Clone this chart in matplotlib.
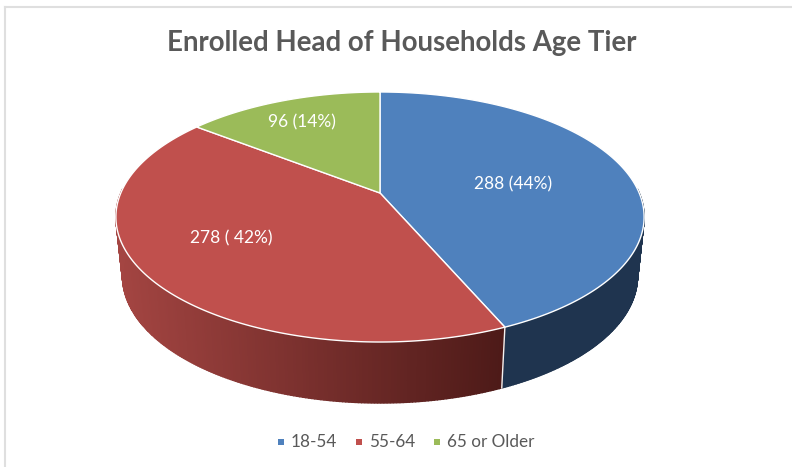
import numpy as np
import matplotlib
matplotlib.use('Agg')
import matplotlib.pyplot as plt
from matplotlib.patches import Rectangle

title = 'Enrolled Head of Households Age Tier'
categories = ['18-54', '55-64', '65 or Older']
values = [288, 278, 96]
slice_labels = ['288 (44%)', '278 ( 42%)', '96 (14%)']
colors = ['#4f81bd', '#c0504d', '#9bbb59']

# pie geometry in pixels, perspective circle
cx, cy = 380, 193
A, B, k = 259.2, 120.4, -0.192
depth = 58.5
shrink = 0.975

plt.rcParams['font.family'] = ['Lato', 'DejaVu Sans']

def rim(theta):
	u = np.sin(theta)
	v = -np.cos(theta)
	w = 1 + k * v
	return cx + A * u / w, cy + B * v / w

def lower(theta):
	x, y = rim(theta)
	v = -np.cos(theta)
	return cx + (x - cx) * shrink, y + depth + 2.5 * v

def side_color(i, theta):
	x, y = rim(theta)
	if i == 0:
		return '#1f344f'
	#red side goes dark towards the right
	t = np.clip((x - 115) / (505 - 115), 0, 1)
	c0 = np.array([0xa4, 0x45, 0x42]) / 255
	c1 = np.array([0x4d, 0x1a, 0x18]) / 255
	return tuple(c0 + (c1 - c0) * t)

fig = plt.figure(figsize=(7.92, 4.67), dpi=100)
ax = fig.add_axes([0, 0, 1, 1])
ax.set_xlim(0, 792)
ax.set_ylim(467, 0)
ax.axis('off')

#chart frame, only top and left are in the crop
ax.plot([4.5, 792], [7, 7], color='#dfdfdf', lw=1.5)
ax.plot([4.5, 4.5], [7, 467], color='#dfdfdf', lw=1.5)

edges = np.cumsum([0] + values) / sum(values) * 2 * np.pi

#side wall, only front half shows
for i in range(len(values)):
	t0 = max(edges[i], np.pi / 2 - 0.04)
	t1 = min(edges[i + 1], 3 * np.pi / 2 + 0.04)
	if t1 <= t0:
		continue
	ts = np.linspace(t0, t1, 200)
	for a, b in zip(ts[:-1], ts[1:]):
		x1, y1 = rim(a)
		x2, y2 = rim(b)
		x3, y3 = lower(b)
		x4, y4 = lower(a)
		c = side_color(i, a)
		ax.fill([x1, x2, x3, x4], [y1, y2, y3, y4], color=c, lw=1, zorder=2)

#white line between side walls
xa, ya = rim(edges[1])
xb, yb = lower(edges[1])
ax.plot([xa, xb], [ya, yb], color='#f2f2f2', lw=1, zorder=3)

#top faces
for i in range(len(values)):
	ts = np.linspace(edges[i], edges[i + 1], 300)
	xs, ys = rim(ts)
	ax.fill(np.r_[cx, xs, cx], np.r_[cy, ys, cy], facecolor=colors[i], edgecolor='white', lw=1, zorder=4)

#data labels
label_pos = [(513, 184), (231, 238), (302, 122)]
for s, (x, y) in zip(slice_labels, label_pos):
	ax.text(x, y, s, color='white', fontsize=12.5, ha='center', va='center', zorder=5)

ax.text(402, 43, title, color='#595959', fontsize=19.9, fontweight='bold', ha='center', va='center')

#legend
leg_box = [(278, 442), (356, 442), (434, 442)]
for c, name, (x, y) in zip(colors, categories, leg_box):
	ax.add_patch(Rectangle((x, y - 3), 6, 6, color=c, lw=0))
	ax.text(x + 13, y, name, color='#595959', fontsize=12.3, ha='left', va='center')

fig.savefig('out.png', dpi=100)
